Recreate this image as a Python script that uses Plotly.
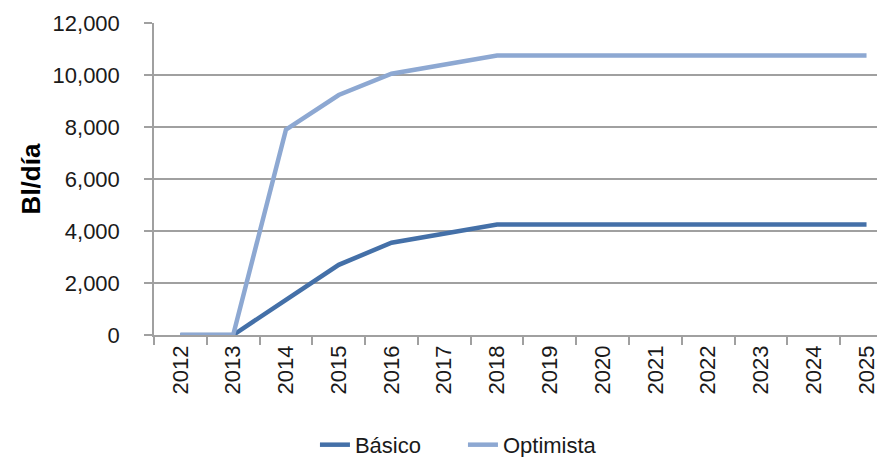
import plotly.graph_objects as go

years = [str(y) for y in range(2012, 2026)]
basico = [0, 0, 1350, 2700, 3550, 3900, 4250, 4250, 4250, 4250, 4250, 4250, 4250, 4250]
optimista = [0, 0, 7900, 9230, 10050, 10420, 10750, 10750, 10750, 10750, 10750, 10750, 10750, 10750]

FONT = "Liberation Sans"
AXIS_GRAY = "#a0a0a0"
TEXT = "#1a1a1a"

fig = go.Figure()
fig.add_trace(
    go.Scatter(
        x=years,
        y=basico,
        mode="lines",
        name="Básico",
        line=dict(color="#4470a8", width=4.5),
    )
)
fig.add_trace(
    go.Scatter(
        x=years,
        y=optimista,
        mode="lines",
        name="Optimista",
        line=dict(color="#8da8d2", width=4.5),
    )
)

# the page body has an 8px margin, so the figure is sized to fit the window
fig.update_layout(
    width=877,
    height=449,
    margin=dict(l=146, r=0, t=15, b=122),
    paper_bgcolor="white",
    plot_bgcolor="white",
    font=dict(family=FONT, size=22, color=TEXT),
    showlegend=True,
    legend=dict(
        orientation="h",
        xref="container",
        yref="container",
        x=0.350,
        xanchor="left",
        y=0.027,
        yanchor="middle",
        entrywidth=103,
        font=dict(size=22, color=TEXT),
        tracegroupgap=0,
    ),
)

fig.update_xaxes(
    type="category",
    range=[-0.5, 13.35],
    tickson="boundaries",
    ticks="outside",
    ticklen=8,
    tickcolor=AXIS_GRAY,
    tickwidth=1.5,
    tickangle=-90,
    showgrid=False,
    showline=True,
    linecolor=AXIS_GRAY,
    linewidth=1.5,
    zeroline=False,
)

fig.update_yaxes(
    range=[0, 12000],
    dtick=2000,
    tickformat=",",
    ticks="outside",
    ticklen=8,
    tickcolor=AXIS_GRAY,
    tickwidth=1.5,
    ticklabelstandoff=20,
    showgrid=True,
    gridcolor=AXIS_GRAY,
    gridwidth=1.5,
    showline=True,
    linecolor=AXIS_GRAY,
    linewidth=1.5,
    zeroline=False,
    title=dict(text="<b>Bl/día</b>", font=dict(size=26, color="#000000"), standoff=4),
)

fig.write_html("out.html")
